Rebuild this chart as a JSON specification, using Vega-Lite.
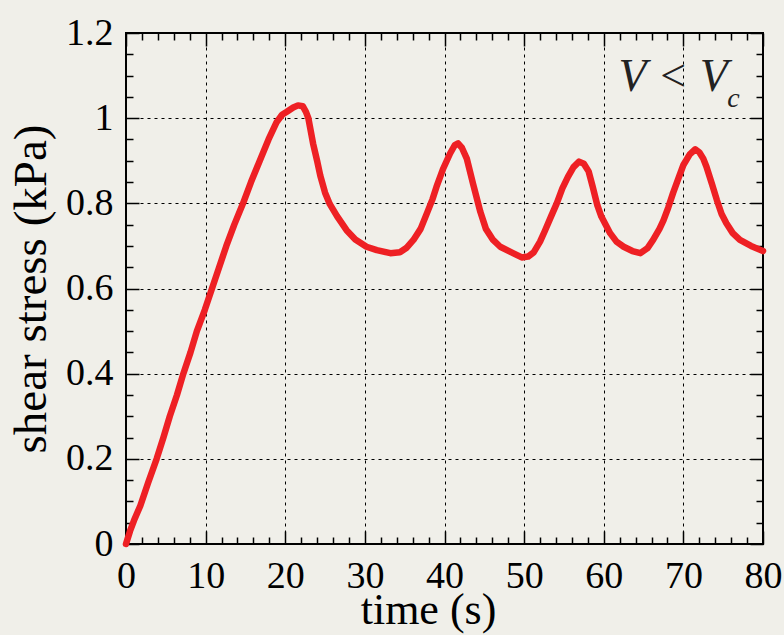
{
  "$schema": "https://vega.github.io/schema/vega-lite/v6.json",
  "width": 637,
  "height": 511,
  "autosize": "none",
  "padding": {"left": 126, "top": 33, "right": 21, "bottom": 91},
  "background": "#f0efe9",
  "config": {
    "view": {"stroke": "black", "strokeWidth": 2, "fill": "#f0efe9"},
    "font": "Liberation Serif"
  },
  "data": {
    "values": [
      {"t": 0, "v": 0}, {"t": 0.5, "v": 0.03}, {"t": 1.0, "v": 0.055}, {"t": 1.8, "v": 0.09},
      {"t": 2.8, "v": 0.145}, {"t": 3.85, "v": 0.2}, {"t": 4.7, "v": 0.25}, {"t": 5.5, "v": 0.3},
      {"t": 6.4, "v": 0.35}, {"t": 7.2, "v": 0.4}, {"t": 8.1, "v": 0.45}, {"t": 8.9, "v": 0.5},
      {"t": 9.9, "v": 0.55}, {"t": 10.8, "v": 0.6}, {"t": 11.7, "v": 0.65}, {"t": 12.6, "v": 0.7},
      {"t": 13.6, "v": 0.75}, {"t": 14.7, "v": 0.8}, {"t": 15.7, "v": 0.85}, {"t": 16.8, "v": 0.9},
      {"t": 17.9, "v": 0.95}, {"t": 18.9, "v": 0.99}, {"t": 19.6, "v": 1.008}, {"t": 20.2, "v": 1.015},
      {"t": 21.0, "v": 1.025}, {"t": 21.6, "v": 1.03}, {"t": 22.2, "v": 1.028}, {"t": 22.6, "v": 1.015},
      {"t": 22.9, "v": 1.0}, {"t": 23.5, "v": 0.94}, {"t": 24.0, "v": 0.9}, {"t": 24.4, "v": 0.865},
      {"t": 25.0, "v": 0.825}, {"t": 25.6, "v": 0.798}, {"t": 26.5, "v": 0.77}, {"t": 27.7, "v": 0.737},
      {"t": 28.8, "v": 0.715}, {"t": 30.2, "v": 0.698}, {"t": 31.5, "v": 0.69}, {"t": 33.2, "v": 0.683},
      {"t": 34.4, "v": 0.685}, {"t": 35.2, "v": 0.695}, {"t": 36.1, "v": 0.714}, {"t": 37.0, "v": 0.74},
      {"t": 37.8, "v": 0.777}, {"t": 38.5, "v": 0.81}, {"t": 39.0, "v": 0.839}, {"t": 39.8, "v": 0.88},
      {"t": 40.7, "v": 0.917}, {"t": 41.3, "v": 0.937}, {"t": 41.7, "v": 0.941}, {"t": 42.2, "v": 0.93},
      {"t": 42.8, "v": 0.905}, {"t": 43.6, "v": 0.845}, {"t": 44.5, "v": 0.78}, {"t": 45.2, "v": 0.74},
      {"t": 46.1, "v": 0.714}, {"t": 47.0, "v": 0.698}, {"t": 48.6, "v": 0.683}, {"t": 49.7, "v": 0.673},
      {"t": 50.5, "v": 0.675}, {"t": 51.2, "v": 0.685}, {"t": 52.0, "v": 0.71}, {"t": 52.6, "v": 0.735},
      {"t": 53.4, "v": 0.77}, {"t": 54.1, "v": 0.8}, {"t": 54.8, "v": 0.835}, {"t": 55.5, "v": 0.862},
      {"t": 56.2, "v": 0.885}, {"t": 56.9, "v": 0.898}, {"t": 57.5, "v": 0.893}, {"t": 58.1, "v": 0.875},
      {"t": 58.6, "v": 0.84}, {"t": 59.2, "v": 0.795}, {"t": 59.7, "v": 0.769}, {"t": 60.8, "v": 0.73},
      {"t": 61.6, "v": 0.71}, {"t": 62.5, "v": 0.698}, {"t": 63.6, "v": 0.688}, {"t": 64.6, "v": 0.683},
      {"t": 65.5, "v": 0.695}, {"t": 66.2, "v": 0.714}, {"t": 67.0, "v": 0.74}, {"t": 67.5, "v": 0.76},
      {"t": 68.1, "v": 0.79}, {"t": 68.7, "v": 0.824}, {"t": 69.4, "v": 0.86}, {"t": 70.0, "v": 0.89},
      {"t": 70.8, "v": 0.915}, {"t": 71.5, "v": 0.927}, {"t": 72.0, "v": 0.92}, {"t": 72.5, "v": 0.905},
      {"t": 72.9, "v": 0.886}, {"t": 73.6, "v": 0.845}, {"t": 74.2, "v": 0.808}, {"t": 74.8, "v": 0.775},
      {"t": 75.4, "v": 0.753}, {"t": 76.2, "v": 0.73}, {"t": 77.1, "v": 0.714}, {"t": 78.5, "v": 0.7},
      {"t": 80, "v": 0.688}
    ]
  },
  "layer": [
    {
      "mark": {"type": "line", "color": "#ee2024", "strokeWidth": 6.5, "strokeJoin": "round", "strokeCap": "round"},
      "encoding": {
        "x": {
          "field": "t", "type": "quantitative",
          "scale": {"domain": [0, 80], "nice": false, "zero": false},
          "axis": {
            "orient": "bottom",
            "values": [0,2,4,6,8,10,12,14,16,18,20,22,24,26,28,30,32,34,36,38,40,42,44,46,48,50,52,54,56,58,60,62,64,66,68,70,72,74,76,78,80],
            "labelExpr": "datum.value % 10 === 0 ? '' + datum.value : ''",
            "title": "time (s)",
            "titleFont": "Liberation Serif", "titleFontSize": 44, "titleFontWeight": "normal", "titleColor": "black",
            "titlePadding": -13, "titleX": 302,
            "labelFont": "Liberation Serif", "labelFontSize": 38, "labelColor": "black",
            "labelPadding": 26, "labelOverlap": false, "labelFlush": false, "labelBound": false,
            "tickColor": "black", "tickWidth": 1.5,
            "tickSize": {"condition": {"test": "datum.value % 10 === 0", "value": -13}, "value": -7},
            "grid": true, "gridColor": "black", "gridDash": [3, 4], "gridWidth": 1,
            "gridOpacity": {"condition": {"test": "datum.value % 10 === 0", "value": 1}, "value": 0},
            "domain": false
          }
        },
        "y": {
          "field": "v", "type": "quantitative",
          "scale": {"domain": [0, 1.2], "nice": false},
          "axis": {
            "orient": "left",
            "values": [0,0.05,0.1,0.15,0.2,0.25,0.3,0.35,0.4,0.45,0.5,0.55,0.6,0.65,0.7,0.75,0.8,0.85,0.9,0.95,1,1.05,1.1,1.15,1.2],
            "labelExpr": "round(datum.value*100) % 20 === 0 ? '' + round(datum.value*10)/10 : ''",
            "title": "shear stress (kPa)",
            "titleFont": "Liberation Serif", "titleFontSize": 47, "titleFontWeight": "normal", "titleColor": "black",
            "titlePadding": 10,
            "labelFont": "Liberation Serif", "labelFontSize": 38, "labelColor": "black",
            "labelPadding": 26, "labelOverlap": false, "labelFlush": false, "labelBound": false,
            "tickColor": "black", "tickWidth": 1.5,
            "tickSize": {"condition": {"test": "round(datum.value*100) % 20 === 0", "value": -13}, "value": -7},
            "grid": true, "gridColor": "black", "gridDash": [3, 4], "gridWidth": 1,
            "gridOpacity": {"condition": {"test": "round(datum.value*100) % 20 === 0", "value": 1}, "value": 0},
            "domain": false
          }
        }
      }
    },
    {
      "mark": {"type": "line", "opacity": 0},
      "encoding": {
        "x": {
          "field": "t", "type": "quantitative",
          "axis": {
            "orient": "top",
            "values": [0,2,4,6,8,10,12,14,16,18,20,22,24,26,28,30,32,34,36,38,40,42,44,46,48,50,52,54,56,58,60,62,64,66,68,70,72,74,76,78,80],
            "labels": false, "title": null, "grid": false, "domain": false,
            "tickColor": "black", "tickWidth": 1.5,
            "tickSize": {"condition": {"test": "datum.value % 10 === 0", "value": -13}, "value": -7}
          }
        },
        "y": {
          "field": "v", "type": "quantitative",
          "axis": {
            "orient": "right",
            "values": [0,0.05,0.1,0.15,0.2,0.25,0.3,0.35,0.4,0.45,0.5,0.55,0.6,0.65,0.7,0.75,0.8,0.85,0.9,0.95,1,1.05,1.1,1.15,1.2],
            "labels": false, "title": null, "grid": false, "domain": false,
            "tickColor": "black", "tickWidth": 1.5,
            "tickSize": {"condition": {"test": "round(datum.value*100) % 20 === 0", "value": -13}, "value": -7}
          }
        }
      }
    },
    {
      "data": {"values": [{}]},
      "mark": {"type": "text", "text": "V < V", "font": "Liberation Serif", "fontStyle": "italic", "fontSize": 46, "align": "right", "baseline": "alphabetic", "color": "#222222"},
      "encoding": {
        "x": {"datum": 75.6, "type": "quantitative", "axis": null},
        "y": {"datum": 1.0645, "type": "quantitative", "axis": null}
      }
    },
    {
      "data": {"values": [{}]},
      "mark": {"type": "text", "text": "c", "font": "Liberation Serif", "fontStyle": "italic", "fontSize": 28, "align": "left", "baseline": "alphabetic", "color": "#222222"},
      "encoding": {
        "x": {"datum": 75.5, "type": "quantitative", "axis": null},
        "y": {"datum": 1.026, "type": "quantitative", "axis": null}
      }
    }
  ],
  "resolve": {"axis": {"x": "independent", "y": "independent"}}
}
